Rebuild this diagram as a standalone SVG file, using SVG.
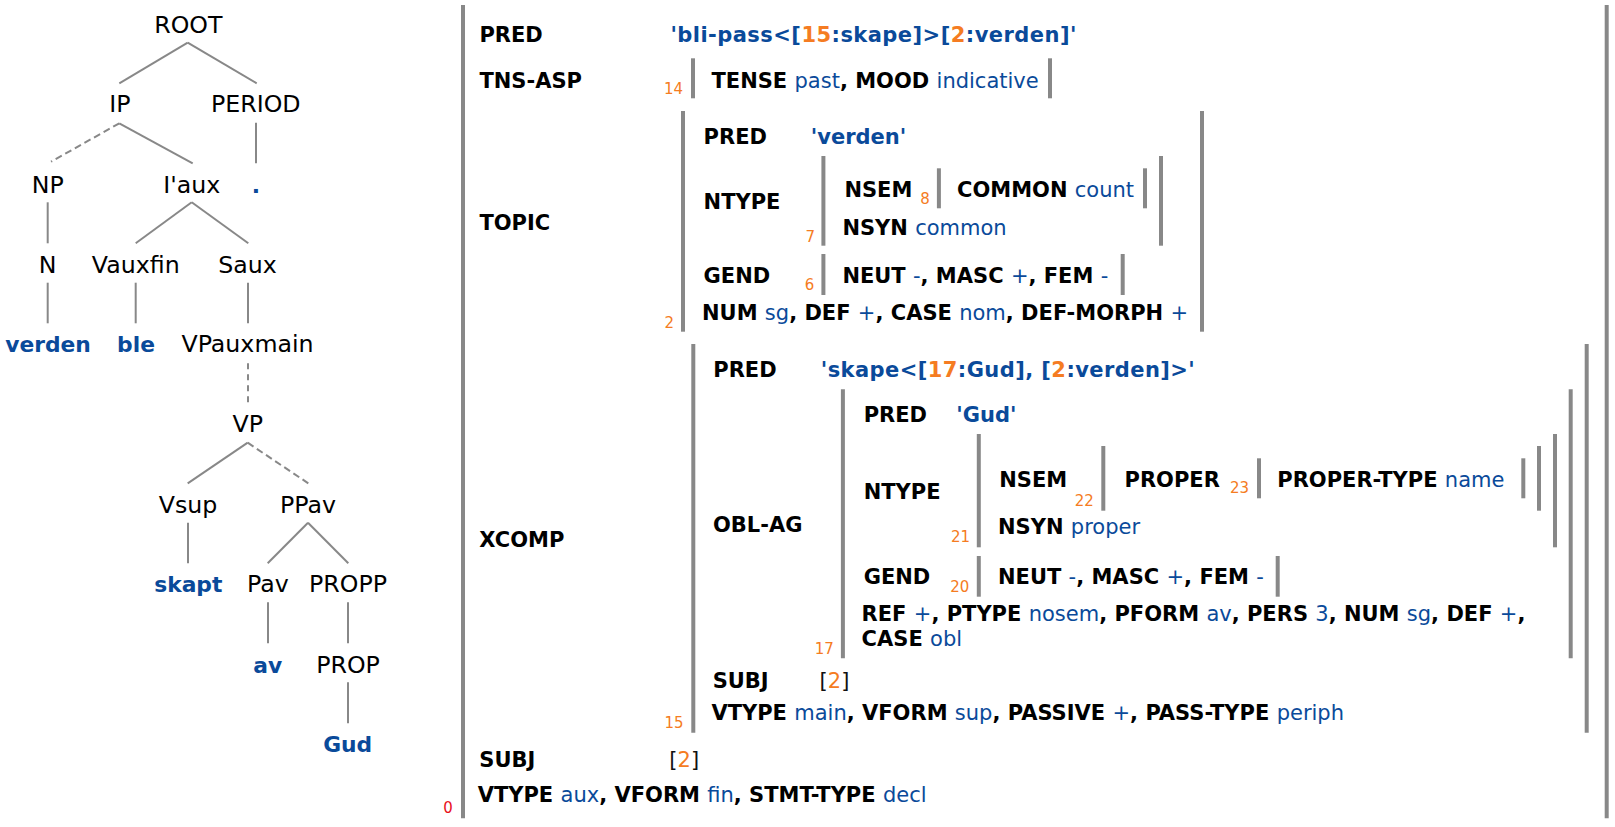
<svg xmlns="http://www.w3.org/2000/svg" width="1615" height="827" viewBox="0 0 1615 827">
<style>
text{font-family:"DejaVu Sans",Verdana,sans-serif}
.t{font-size:23.7px;fill:#000;text-anchor:middle}
.tl{font-size:21.8px;font-weight:bold;fill:#0a4a9a;text-anchor:middle}
.a{font-size:21px;font-weight:bold;fill:#000}
.v{font-weight:normal;fill:#0a4a9a}
.vb{font-size:21px;font-weight:bold;fill:#0a4a9a}
.o{fill:#f57c22}
.br{font-size:21px;fill:#111}
.i{font-size:15px;fill:#f57c22}
.z{font-size:15px;fill:#e8101a}
.e{stroke:#888;stroke-width:2;fill:none}
.d{stroke-dasharray:7 4}
.bar{stroke:#888;stroke-width:4}
</style>
<rect width="1615" height="827" fill="#fff"/>
<g id="tree-edges">
<line class="e" x1="187.7" y1="42.7" x2="119.3" y2="83.3"/>
<line class="e" x1="187.7" y1="42.7" x2="256.7" y2="83.3"/>
<line class="e d" x1="119.3" y1="123.3" x2="51" y2="161.7"/>
<line class="e" x1="119.3" y1="123.3" x2="192.7" y2="163.3"/>
<line class="e" x1="256" y1="122.7" x2="256" y2="163.3"/>
<line class="e" x1="47.7" y1="202.3" x2="47.7" y2="243.3"/>
<line class="e" x1="191.7" y1="202.3" x2="135.7" y2="243.3"/>
<line class="e" x1="191.7" y1="202.3" x2="248.3" y2="243.3"/>
<line class="e" x1="47.7" y1="282.7" x2="47.7" y2="323.3"/>
<line class="e" x1="135.7" y1="282.7" x2="135.7" y2="323.3"/>
<line class="e" x1="248" y1="282.7" x2="248" y2="323.3"/>
<line class="e" x1="248" y1="363.3" x2="248" y2="403.3" stroke-dasharray="6 5"/>
<line class="e" x1="247.7" y1="442.7" x2="187.7" y2="483.3"/>
<line class="e d" x1="247.7" y1="442.7" x2="308.3" y2="483.3"/>
<line class="e" x1="188" y1="522.7" x2="188" y2="563.3"/>
<line class="e" x1="308" y1="522.7" x2="267.7" y2="563.3"/>
<line class="e" x1="308" y1="522.7" x2="348.3" y2="563.3"/>
<line class="e" x1="268" y1="602.3" x2="268" y2="643.3"/>
<line class="e" x1="348" y1="602.3" x2="348" y2="643.3"/>
<line class="e" x1="348" y1="682.3" x2="348" y2="723.3"/>
</g>
<g id="n-root"><text class="t" x="188.3" y="33">ROOT</text></g>
<g id="n-ip"><text class="t" x="120" y="112.3">IP</text></g>
<g id="n-period"><text class="t" x="255.8" y="112.3">PERIOD</text></g>
<g id="n-np"><text class="t" x="47.8" y="192.7">NP</text></g>
<g id="n-iaux"><text class="t" x="191.7" y="192.7">I'aux</text></g>
<g id="n-dot"><text class="tl" x="256" y="192.7">.</text></g>
<g id="n-n"><text class="t" x="47.7" y="272.7">N</text></g>
<g id="n-vauxfin"><text class="t" x="135.8" y="272.7">Vauxfin</text></g>
<g id="n-saux"><text class="t" x="247.5" y="272.7">Saux</text></g>
<g id="n-verden"><text class="tl" x="48" y="351.7">verden</text></g>
<g id="n-ble"><text class="tl" x="136" y="351.7">ble</text></g>
<g id="n-vpauxmain"><text class="t" x="247.5" y="351.7">VPauxmain</text></g>
<g id="n-vp"><text class="t" x="247.7" y="431.7">VP</text></g>
<g id="n-vsup"><text class="t" x="188" y="512.7">Vsup</text></g>
<g id="n-ppav"><text class="t" x="308" y="512.7">PPav</text></g>
<g id="n-skapt"><text class="tl" x="188.3" y="591.7">skapt</text></g>
<g id="n-pav"><text class="t" x="268" y="591.7">Pav</text></g>
<g id="n-propp"><text class="t" x="348" y="591.7">PROPP</text></g>
<g id="n-av"><text class="tl" x="267.7" y="672.7">av</text></g>
<g id="n-prop"><text class="t" x="348" y="672.7">PROP</text></g>
<g id="n-gud"><text class="tl" x="347.7" y="751.7">Gud</text></g>

<g id="fs-bars">
<line class="bar" x1="463" y1="5" x2="463" y2="818.3"/>
<line class="bar" x1="1606.7" y1="5" x2="1606.7" y2="818.3"/>
<line class="bar" x1="693" y1="58.3" x2="693" y2="98.3"/>
<line class="bar" x1="1050" y1="58.3" x2="1050" y2="98.3"/>
<line class="bar" x1="683" y1="111" x2="683" y2="331.7"/>
<line class="bar" x1="1202" y1="111" x2="1202" y2="331.7"/>
<line class="bar" x1="823.4" y1="156" x2="823.4" y2="245.7"/>
<line class="bar" x1="1161" y1="156" x2="1161" y2="245.7"/>
<line class="bar" x1="938.9" y1="168.3" x2="938.9" y2="208.3"/>
<line class="bar" x1="1145" y1="168.3" x2="1145" y2="208.3"/>
<line class="bar" x1="823.4" y1="254" x2="823.4" y2="295"/>
<line class="bar" x1="1122.7" y1="254" x2="1122.7" y2="295"/>
<line class="bar" x1="693.3" y1="344" x2="693.3" y2="732.7"/>
<line class="bar" x1="1586.7" y1="344" x2="1586.7" y2="732.7"/>
<line class="bar" x1="842.9" y1="389.3" x2="842.9" y2="658.3"/>
<line class="bar" x1="1570.7" y1="389.3" x2="1570.7" y2="658.3"/>
<line class="bar" x1="978.8" y1="434" x2="978.8" y2="547.3"/>
<line class="bar" x1="1555" y1="434" x2="1555" y2="547.3"/>
<line class="bar" x1="1103.3" y1="446" x2="1103.3" y2="510.7"/>
<line class="bar" x1="1539" y1="446" x2="1539" y2="510.7"/>
<line class="bar" x1="1259" y1="458.3" x2="1259" y2="498.3"/>
<line class="bar" x1="1523.3" y1="458.3" x2="1523.3" y2="498.3"/>
<line class="bar" x1="978.8" y1="556" x2="978.8" y2="596.7"/>
<line class="bar" x1="1277.7" y1="556" x2="1277.7" y2="596.7"/>
</g>

<g id="fs-0">
<text class="a" x="479.4" y="42.3">PRED</text>
<text class="vb" x="670.4" y="42.3" textLength="406" lengthAdjust="spacing">'bli-pass&lt;[<tspan class="o">15</tspan>:skape]&gt;[<tspan class="o">2</tspan>:verden]'</text>
<text class="a" x="479.4" y="87.5">TNS-ASP</text>
<text class="a" x="479.4" y="230">TOPIC</text>
<text class="a" x="479.3" y="546.7">XCOMP</text>
<text class="a" x="479.3" y="766.7">SUBJ</text>
<text class="br" x="669.3" y="766.7">[<tspan class="o">2</tspan>]</text>
<text class="a" x="477.7" y="801.7">VTYPE <tspan class="v">aux</tspan>, VFORM <tspan class="v">fin</tspan>, STMT-TYPE <tspan class="v">decl</tspan></text>
<text class="z" x="443.3" y="813.3">0</text>
</g>

<g id="fs-14">
<text class="i" x="664" y="94">14</text>
<text class="a" x="711.5" y="88">TENSE <tspan class="v">past</tspan>, MOOD <tspan class="v">indicative</tspan></text>
</g>

<g id="fs-2">
<text class="a" x="703.6" y="144">PRED</text>
<text class="vb" x="810.8" y="144">'verden'</text>
<text class="a" x="703.6" y="209.3">NTYPE</text>
<text class="a" x="844.4" y="197.3">NSEM</text>
<text class="i" x="920.3" y="204">8</text>
<text class="a" x="957" y="197.3">COMMON <tspan class="v">count</tspan></text>
<text class="a" x="842.4" y="235">NSYN <tspan class="v">common</tspan></text>
<text class="i" x="805.6" y="241.7">7</text>
<text class="a" x="703.6" y="283.3">GEND</text>
<text class="i" x="804.8" y="290">6</text>
<text class="a" x="842.4" y="283.3">NEUT <tspan class="v">-</tspan>, MASC <tspan class="v">+</tspan>, FEM <tspan class="v">-</tspan></text>
<text class="a" x="702" y="320">NUM <tspan class="v">sg</tspan>, DEF <tspan class="v">+</tspan>, CASE <tspan class="v">nom</tspan>, DEF-MORPH <tspan class="v">+</tspan></text>
<text class="i" x="664.5" y="328.3">2</text>
</g>

<g id="fs-15">
<text class="a" x="713.3" y="377.3">PRED</text>
<text class="vb" x="820.8" y="377.3" textLength="374" lengthAdjust="spacing">'skape&lt;[<tspan class="o">17</tspan>:Gud], [<tspan class="o">2</tspan>:verden]&gt;'</text>
<text class="a" x="713" y="531.7">OBL-AG</text>
<text class="a" x="712.7" y="688.3">SUBJ</text>
<text class="br" x="819.6" y="688.3">[<tspan class="o">2</tspan>]</text>
<text class="a" x="711.4" y="720">VTYPE <tspan class="v">main</tspan>, VFORM <tspan class="v">sup</tspan>, PASSIVE <tspan class="v">+</tspan>, PASS-TYPE <tspan class="v">periph</tspan></text>
<text class="i" x="664.5" y="728.3">15</text>
</g>

<g id="fs-17">
<text class="a" x="863.7" y="421.7">PRED</text>
<text class="vb" x="956.3" y="421.7">'Gud'</text>
<text class="a" x="863.7" y="499.3">NTYPE</text>
<text class="a" x="999.2" y="486.7">NSEM</text>
<text class="i" x="1074.7" y="505.7">22</text>
<text class="a" x="1124.5" y="486.7">PROPER</text>
<text class="i" x="1230" y="493.3">23</text>
<text class="a" x="1277.3" y="486.7">PROPER-TYPE <tspan class="v">name</tspan></text>
<text class="a" x="998" y="534">NSYN <tspan class="v">proper</tspan></text>
<text class="i" x="951" y="542.3">21</text>
<text class="a" x="863.7" y="584.3">GEND</text>
<text class="i" x="950.2" y="591.7">20</text>
<text class="a" x="998" y="584.3">NEUT <tspan class="v">-</tspan>, MASC <tspan class="v">+</tspan>, FEM <tspan class="v">-</tspan></text>
<text class="a" x="861.6" y="621">REF <tspan class="v">+</tspan>, PTYPE <tspan class="v">nosem</tspan>, PFORM <tspan class="v">av</tspan>, PERS <tspan class="v">3</tspan>, NUM <tspan class="v">sg</tspan>, DEF <tspan class="v">+</tspan>,</text>
<text class="a" x="861.6" y="646">CASE <tspan class="v">obl</tspan></text>
<text class="i" x="814.7" y="654">17</text>
</g>
</svg>
